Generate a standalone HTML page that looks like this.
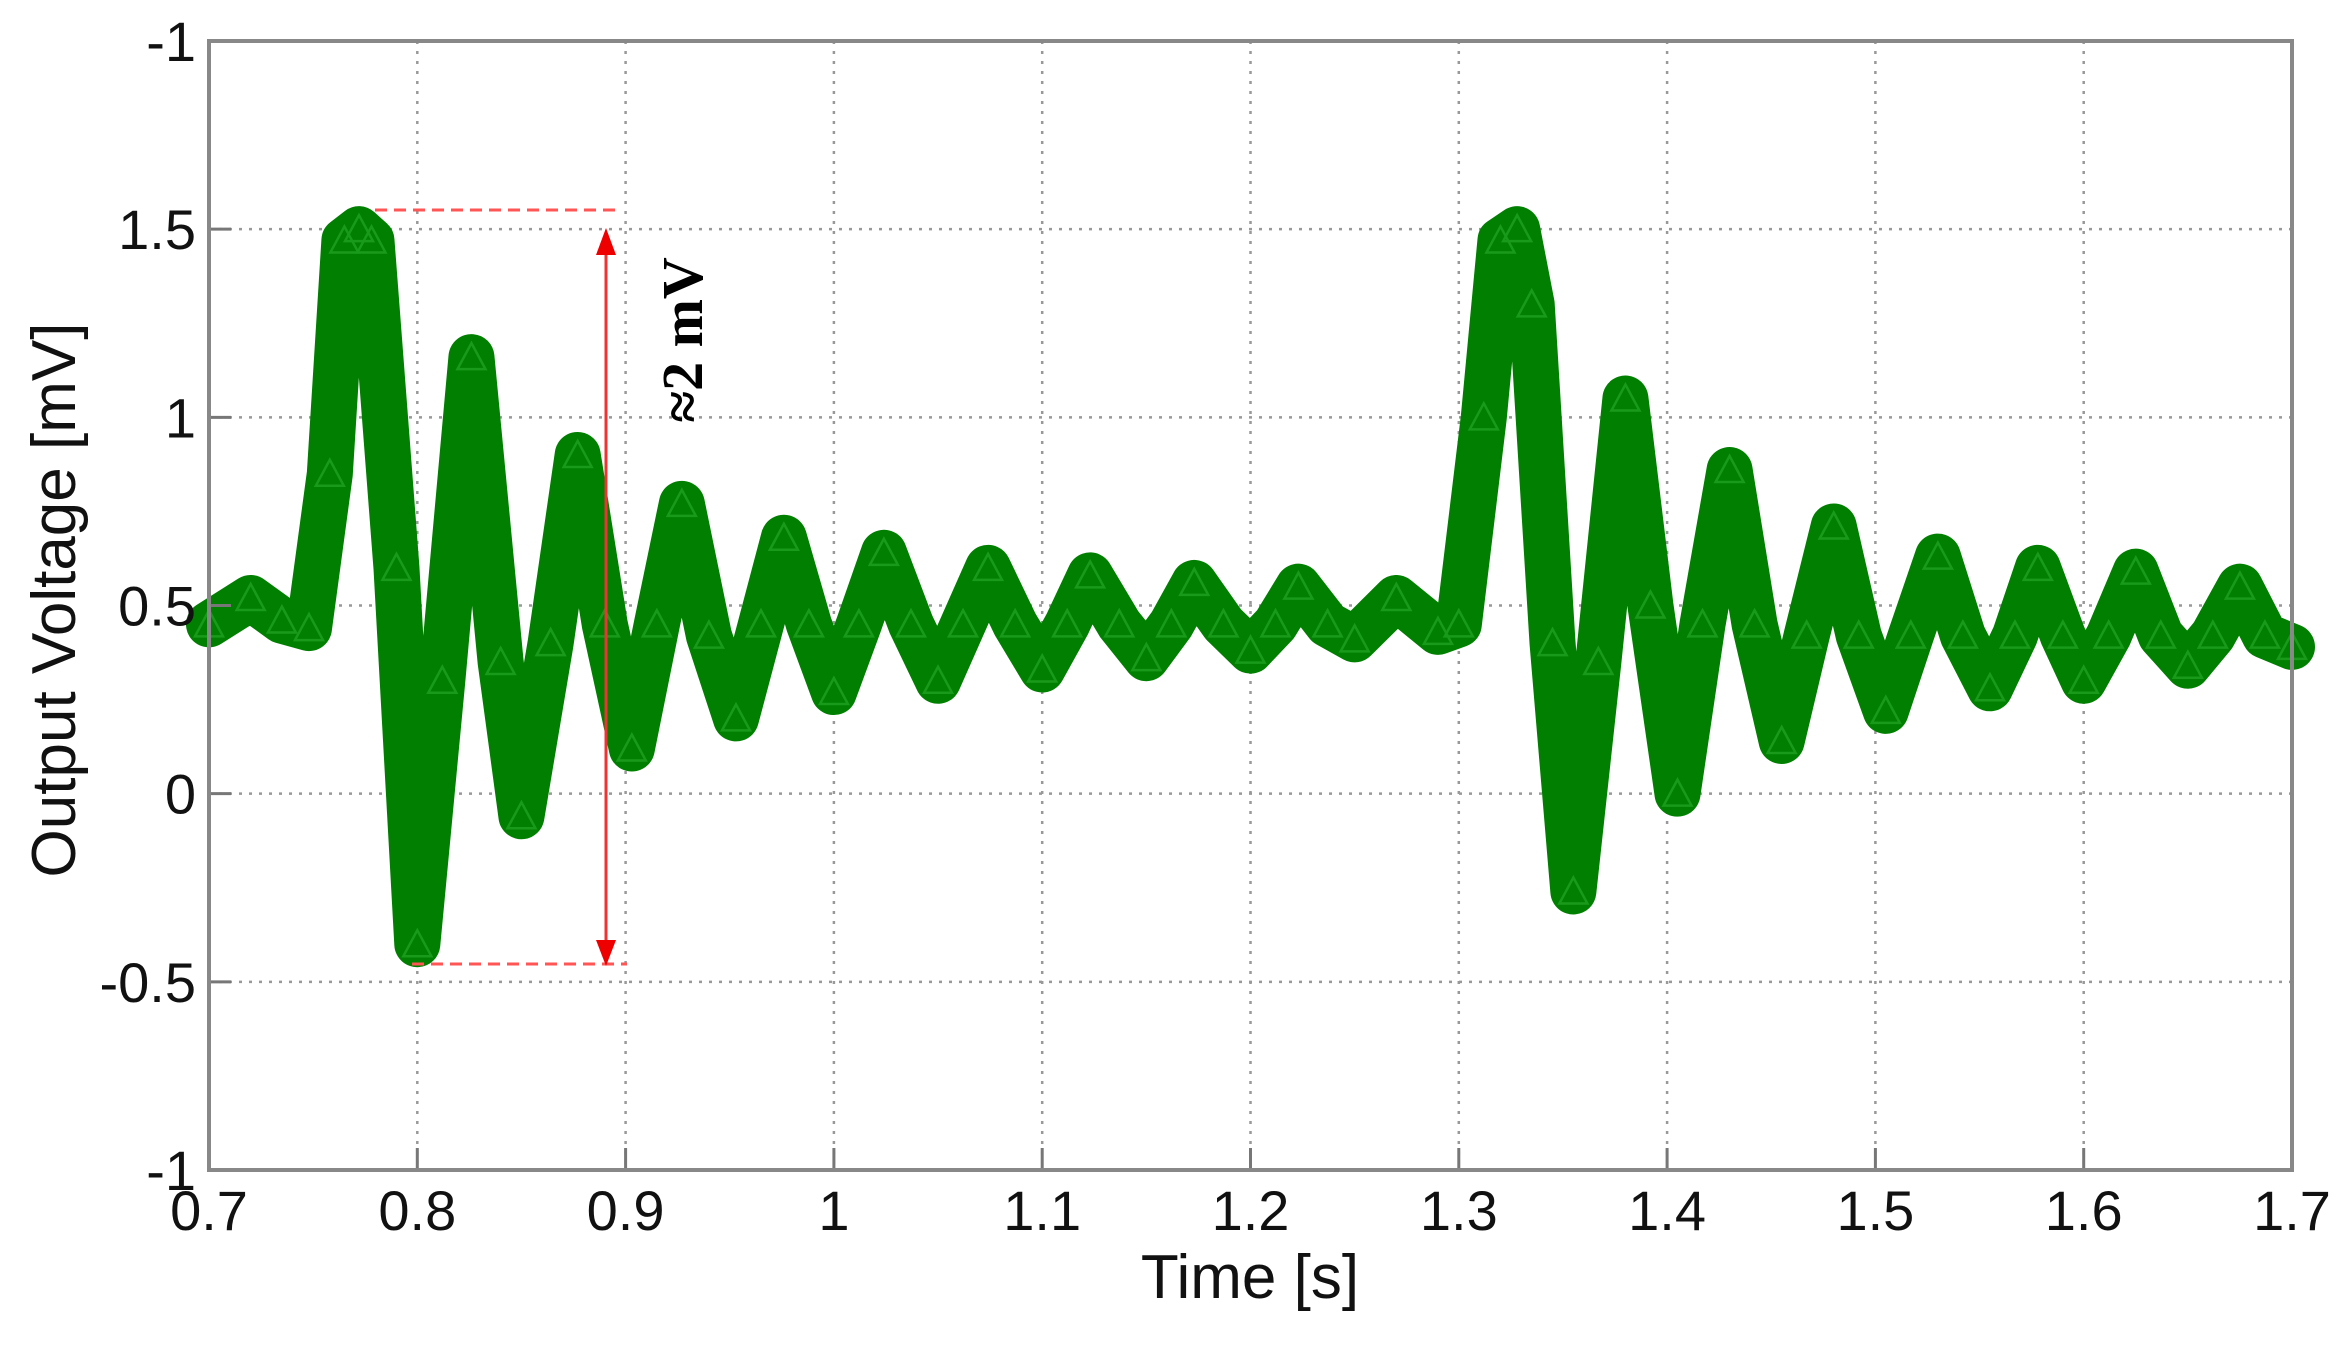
<!DOCTYPE html>
<html><head><meta charset="utf-8"><style>
html,body{margin:0;padding:0;background:#fff;}
svg{display:block;font-family:"Liberation Sans",sans-serif;}
</style></head><body>
<svg id="chart" width="2344" height="1346" viewBox="0 0 2344 1346">
<rect width="2344" height="1346" fill="#fff"/>
<g id="grid"></g>
<g id="series"></g>
<g id="axes"></g>
<g id="annot"></g>
</svg>
<script>
const xTicks = [0.7,0.8,0.9,1.0,1.1,1.2,1.3,1.4,1.5,1.6,1.7];
const xTickLabels = ["0.7","0.8","0.9","1","1.1","1.2","1.3","1.4","1.5","1.6","1.7"];
const yTicks = [2,1.5,1,0.5,0,-0.5,-1];
const yTickLabels = ["-1","1.5","1","0.5","0","-0.5","-1"];
const times = [0.70,0.72,0.735,0.748,0.758,0.765,0.772,0.778,0.79,0.80,0.812,0.826,0.84,0.85,0.864,0.877,0.89,0.903,0.915,0.927,0.94,0.953,0.965,0.976,0.988,1.0,1.012,1.024,1.037,1.05,1.062,1.074,1.087,1.10,1.112,1.123,1.137,1.15,1.162,1.173,1.187,1.20,1.212,1.223,1.237,1.25,1.27,1.29,1.30,1.312,1.32,1.328,1.335,1.345,1.355,1.367,1.38,1.392,1.405,1.417,1.43,1.442,1.455,1.467,1.48,1.492,1.505,1.517,1.53,1.542,1.555,1.567,1.578,1.59,1.60,1.612,1.625,1.637,1.65,1.662,1.675,1.687,1.70];
const volts = [0.45,0.52,0.46,0.44,0.85,1.47,1.5,1.47,0.6,-0.4,0.3,1.16,0.35,-0.06,0.4,0.9,0.45,0.12,0.45,0.77,0.42,0.2,0.45,0.68,0.45,0.27,0.45,0.64,0.45,0.3,0.45,0.6,0.45,0.33,0.45,0.58,0.45,0.36,0.45,0.56,0.45,0.38,0.45,0.55,0.45,0.41,0.52,0.43,0.45,1.0,1.47,1.5,1.3,0.4,-0.26,0.35,1.05,0.5,0.0,0.45,0.86,0.45,0.14,0.42,0.71,0.42,0.22,0.42,0.63,0.42,0.28,0.42,0.6,0.42,0.3,0.42,0.59,0.42,0.34,0.42,0.55,0.42,0.39];
const L=209,R=2292,T=41,B=1170;
const xs=t=>L+(t-0.7)/(1.7-0.7)*(R-L);
const ys=v=>T+(2-v)/(2-(-1))*(B-T);
const NS="http://www.w3.org/2000/svg";
function mk(tag,attrs,parent){const e=document.createElementNS(NS,tag);for(const k in attrs)e.setAttribute(k,attrs[k]);parent.appendChild(e);return e;}
const grid=document.getElementById('grid'),axes=document.getElementById('axes'),ser=document.getElementById('series'),an=document.getElementById('annot');
xTicks.forEach((t,i)=>{
  if(i>0&&i<xTicks.length-1){const g=mk('line',{x1:xs(t),x2:xs(t),y1:T,y2:B,stroke:'#999','stroke-width':2.5,'stroke-dasharray':'3 7'},grid);
  
  }
  const tk=mk('line',{x1:xs(t),x2:xs(t),y1:B,y2:B-22,stroke:'#777','stroke-width':3},axes);
  
  
  const tx=mk('text',{x:xs(t),y:1230,'font-size':56,'text-anchor':'middle',fill:'#111'},axes);
  tx.textContent=xTickLabels[i];
  
  
});
yTicks.forEach((v,i)=>{
  if(i>0&&i<yTicks.length-1){const g=mk('line',{x1:L,x2:R,y1:ys(v),y2:ys(v),stroke:'#999','stroke-width':2.5,'stroke-dasharray':'3 7'},grid);
  
  }
  const tk=mk('line',{x1:L,x2:L+22,y1:ys(v),y2:ys(v),stroke:'#777','stroke-width':3},axes);
  
  
  const tx=mk('text',{x:196,y:ys(v)+20,'font-size':56,'text-anchor':'end',fill:'#111'},axes);
  tx.textContent=yTickLabels[i];
  
  
});
const frame=mk('rect',{x:L,y:T,width:R-L,height:B-T,fill:'none',stroke:'#888','stroke-width':4},axes);


const xt=mk('text',{x:1250,y:1298,'font-size':62,'text-anchor':'middle',fill:'#111'},axes);
xt.textContent='Time [s]';


const yt=mk('text',{x:0,y:0,'font-size':62,'text-anchor':'middle',fill:'#111',transform:'translate(75,600) rotate(-90)'},axes);
yt.textContent='Output Voltage [mV]';


const pts=times.map((t,i)=>xs(t)+','+ys(volts[i])).join(' ');
const band=mk('polyline',{points:pts,fill:'none',stroke:'#007f00','stroke-width':46,'stroke-linejoin':'round','stroke-linecap':'round'},ser);


times.forEach((t,i)=>{
  const x=xs(t),y=ys(volts[i]);
  const m=mk('path',{d:`M${x-14},${y+12}L${x},${y-14}L${x+14},${y+12}Z`,fill:'none',stroke:'#1a9a1a','stroke-width':2.5},ser);
  
  
});
[[375,622,210],[412,627,964]].forEach(d=>{
  const l=mk('line',{x1:d[0],x2:d[1],y1:d[2],y2:d[2],stroke:'#f55','stroke-width':3,'stroke-dasharray':'12 7'},an);
  
  
});
const ar=mk('line',{x1:606,x2:606,y1:250,y2:945,stroke:'#e33','stroke-width':3},an);


mk('path',{d:'M596,255L606,228L616,255Z',fill:'#e00'},an);
mk('path',{d:'M596,940L606,966L616,940Z',fill:'#e00'},an);
const lab=mk('text',{x:0,y:0,'font-size':58,'font-weight':'bold','font-family':'"Liberation Serif",serif','text-anchor':'middle',fill:'#000',transform:'translate(702,340) rotate(-90)'},an);
lab.textContent='≈2 mV';


</script>
</body></html>
